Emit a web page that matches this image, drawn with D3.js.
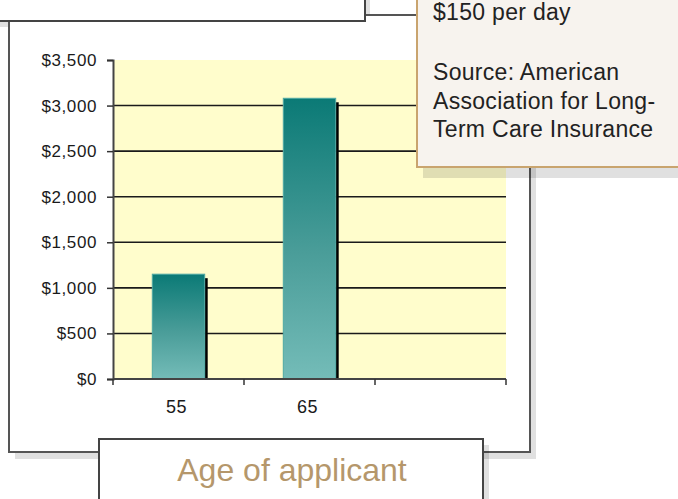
<!DOCTYPE html>
<html>
<head>
<meta charset="utf-8">
<script src="https://cdn.jsdelivr.net/npm/d3@7"></script>
<style>
    body { margin: 0; background: #fff; }
    svg { display: block; font-family: "Liberation Sans", Arial, sans-serif; }
</style>
</head>
<body>
<div id="chart"></div>
<script>
// Chart data
const categories = ["55", "65", ""];          // age of applicant (third slot left empty)
const premiums = [1150, 3080, null];          // annual premium, dollars
const yTicks = [0, 500, 1000, 1500, 2000, 2500, 3000, 3500];
const noteLines = ["$150 per day", "", "Source: American", "Association for Long-", "Term Care Insurance"];
const axisTitle = "Age of applicant";

const width = 678;
const height = 499;

const svg = d3.select("#chart")
    .append("svg")
    .attr("width", width)
    .attr("height", height);

const defs = svg.append("defs");
const grad = defs.append("linearGradient")
    .attr("id", "barGrad")
    .attr("x1", 0).attr("y1", 0)
    .attr("x2", 0).attr("y2", 1);
grad.append("stop").attr("offset", "0%").attr("stop-color", "#0b7a76");
grad.append("stop").attr("offset", "55%").attr("stop-color", "#4a9d99");
grad.append("stop").attr("offset", "100%").attr("stop-color", "#74bcb8");

const shadow = "rgba(0,0,0,0.12)";

// Plot area bounds
const plot = { left: 113, right: 506, top: 60, bottom: 379 };

const x = d3.scaleBand()
    .domain(categories)
    .range([plot.left, plot.right])
    .padding(0);

const y = d3.scaleLinear()
    .domain([0, 3500])
    .range([plot.bottom, plot.top]);

// Top (cut off) box shadow, drawn under the panel
svg.append("rect")
    .attr("x", -10).attr("y", -10)
    .attr("width", 380).attr("height", 37)
    .attr("fill", shadow);

// Main panel with shadow
svg.append("rect")
    .attr("x", 15).attr("y", 22)
    .attr("width", 521).attr("height", 437)
    .attr("fill", shadow);
svg.append("rect")
    .attr("x", 9).attr("y", 15)
    .attr("width", 521).attr("height", 437)
    .attr("fill", "#fff")
    .attr("stroke", "#555")
    .attr("stroke-width", 2);

// Top box
svg.append("rect")
    .attr("x", -10).attr("y", -10)
    .attr("width", 375).attr("height", 31)
    .attr("fill", "#fff")
    .attr("stroke", "#444")
    .attr("stroke-width", 2);

// Yellow plot background
svg.append("rect")
    .attr("x", plot.left).attr("y", plot.top)
    .attr("width", plot.right - plot.left)
    .attr("height", plot.bottom - plot.top)
    .attr("fill", "#fffdcc");

// Gridlines (not at 0 or top)
svg.append("g")
    .selectAll("line")
    .data(yTicks.filter(d => d > 0 && d < 3500))
    .enter()
    .append("line")
    .attr("x1", plot.left).attr("x2", plot.right)
    .attr("y1", d => y(d)).attr("y2", d => y(d))
    .attr("stroke", "#1a1a1a")
    .attr("stroke-width", 1.6);

// Bars
const bw = x.bandwidth() * 0.4;
const bars = svg.append("g")
    .selectAll("g")
    .data(categories.map((c, i) => ({ cat: c, value: premiums[i] })).filter(d => d.value != null))
    .enter()
    .append("g");

bars.append("rect")
    .attr("x", d => x(d.cat) + (x.bandwidth() - bw) / 2 + bw)
    .attr("y", d => y(d.value) + 4)
    .attr("width", 3)
    .attr("height", d => y(0) - y(d.value) - 4)
    .attr("fill", "#000");

bars.append("rect")
    .attr("x", d => x(d.cat) + (x.bandwidth() - bw) / 2)
    .attr("y", d => y(d.value))
    .attr("width", bw)
    .attr("height", d => y(0) - y(d.value))
    .attr("fill", "url(#barGrad)")
    .attr("stroke", "#4fa9a4")
    .attr("stroke-width", 1);

// Y axis
const yAxis = svg.append("g")
    .attr("transform", `translate(${plot.left},0)`)
    .call(d3.axisLeft(y)
        .tickValues(yTicks)
        .tickSize(6)
        .tickPadding(10)
        .tickFormat(d => "$" + d3.format(",")(d)));

yAxis.select(".domain").attr("stroke", "#444").attr("stroke-width", 2);
yAxis.selectAll(".tick line").attr("stroke", "#333").attr("stroke-width", 1.5);
yAxis.selectAll(".tick text")
    .attr("fill", "#1a1a1a")
    .attr("font-size", 17)
    .attr("letter-spacing", 0.6)
    .attr("font-family", "'Liberation Sans', Arial, sans-serif");

// X axis, ticks on band edges
const xAxis = svg.append("g")
    .attr("transform", `translate(0,${plot.bottom})`);

xAxis.append("line")
    .attr("x1", plot.left).attr("x2", plot.right)
    .attr("stroke", "#444")
    .attr("stroke-width", 2);

const edges = categories.map(c => x(c)).concat([plot.right]);
xAxis.selectAll("line.tk")
    .data(edges)
    .enter()
    .append("line")
    .attr("class", "tk")
    .attr("x1", d => d).attr("x2", d => d)
    .attr("y1", 0).attr("y2", 6)
    .attr("stroke", "#333")
    .attr("stroke-width", 1.5);

xAxis.selectAll("text")
    .data(categories)
    .enter()
    .append("text")
    .attr("x", d => x(d) + x.bandwidth() / 2 - 2)
    .attr("y", 34)
    .attr("text-anchor", "middle")
    .attr("font-size", 18)
    .attr("letter-spacing", 0.6)
    .attr("fill", "#1a1a1a")
    .text(d => d);

// Axis title box
svg.append("rect")
    .attr("x", 105).attr("y", 445)
    .attr("width", 384).attr("height", 80)
    .attr("fill", shadow);
svg.append("rect")
    .attr("x", 99).attr("y", 439)
    .attr("width", 384).attr("height", 80)
    .attr("fill", "#fff")
    .attr("stroke", "#444")
    .attr("stroke-width", 2);
svg.append("text")
    .attr("x", 292).attr("y", 481)
    .attr("text-anchor", "middle")
    .attr("font-size", 32)
    .attr("fill", "#b5976b")
    .text(axisTitle);

// Note box (top right)
svg.append("rect")
    .attr("x", 423).attr("y", 0)
    .attr("width", 300).attr("height", 178)
    .attr("fill", shadow);
svg.append("rect")
    .attr("x", 417).attr("y", -10)
    .attr("width", 300).attr("height", 177)
    .attr("fill", "#f7f3ee")
    .attr("stroke", "#c9a46e")
    .attr("stroke-width", 2);

const noteY = [20, 0, 80, 108.5, 137];
svg.append("g")
    .selectAll("text")
    .data(noteLines)
    .enter()
    .append("text")
    .attr("x", 433)
    .attr("y", (d, i) => noteY[i])
    .attr("font-size", 23)
    .attr("letter-spacing", 0.3)
    .attr("fill", "#222")
    .text(d => d);
</script>
</body>
</html>
